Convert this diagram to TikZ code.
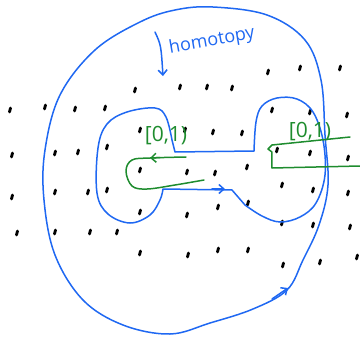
\documentclass[tikz,border=0pt]{standalone}
\usepackage{fontspec}
\setsansfont{Open Sans}
\usetikzlibrary{arrows.meta}
\definecolor{loopc}{HTML}{1F68F2}
\definecolor{intc}{HTML}{1E8C2E}
\tikzset{
  loopline/.style={draw=loopc, line width=1.5pt, line join=round, line cap=round},
  intline/.style={draw=intc, line width=1.5pt, line join=round, line cap=round},
  speck/.style={line width=2.8pt, line cap=round, black},
  tipbarb/.style={-{Straight Barb[length=5pt,width=9pt]}},
  intlbl/.style={text=intc, font=\sffamily\fontsize{21}{21}\selectfont, inner sep=0pt},
  homlbl/.style={text=loopc, font=\sffamily\fontsize{18}{18}\selectfont, inner sep=0pt},
}
\begin{document}
\begin{tikzpicture}[x=1pt, y=-1pt]
  \useasboundingbox (0,0) rectangle (360,338);

  % lattice of dots
  \foreach \px/\py in {268/72, 300/68, 340/68,
      135/90, 180/87, 207/87, 232/88,
      10/110, 45/107, 75/109, 105/108, 272/110, 310/112, 347/115,
      140/130, 185/130, 213/132, 242/133,
      12/155, 55/153, 78/152, 107/147, 277/150, 310/153, 348/158,
      140/170, 187/172, 215/173, 247/167,
      12/197, 55/192, 88/192, 107/190, 282/185, 313/190, 348/193,
      140/212, 187/215, 218/207, 248/203,
      17/233, 55/232, 90/232, 117/232, 282/223, 313/225, 350/227,
      140/253, 188/255, 218/250, 248/250,
      283/265, 320/262, 357/257}
    \draw[speck] (\px-0.5,\py+2) -- (\px+0.5,\py-2);

  % outer loop (the homotopy)
  \draw[loopline] plot[smooth cycle, tension=0.6] coordinates {
      (213,7) (267,15) (305,40) (321,80) (325,135) (328,185) (319,225)
      (303,260) (287,290) (253,309) (210,323) (170,334) (123,325) (83,300)
      (55,255) (44,200) (45,150) (60,95) (95,50) (140,22) (175,10)};
  \draw[loopline, tipbarb] (272,299) -- (288,288);

  % inner loop
  \draw[loopline] (254,151) -- (175,152)
    -- plot[smooth, tension=0.6] coordinates {
      (172,140) (166,117) (155,108) (127,112) (107,124) (98,148) (97,193)
      (108,214) (130,223) (150,215) (160,200) (163,189)}
    -- (232,190)
    -- plot[smooth, tension=0.6] coordinates {
      (245,205) (262,216) (280,222) (300,217) (316,203) (325,175) (323,140)
      (313,112) (297,99) (277,98) (262,106) (256,122) (254,151)};
  \draw[loopline, tipbarb] (212,189) -- (225,189);

  % intervals
  \draw[intline] plot[smooth, tension=0.6] coordinates {
      (186,157) (150,158) (132,160) (126,171) (132,186) (147,189) (175,185) (204,180)};
  \draw[intline, tipbarb] (160,157.6) -- (150,158);
  \draw[intline] (350,137) -- (272,145) -- (268,149) -- (272,152) -- (272,168) -- (360,166);

  \node[intlbl] (intleft) at (166,136) {[0,1)};
  \node[intlbl] (intright) at (310,132) {[0,1)};

  % homotopy label
  \node[homlbl, rotate=10] (homtext) at (212,41) {homotopy};
  \coordinate (homstart) at (155,32);
  \coordinate (homend) at (163,76);
  \draw[loopline, tipbarb] (homstart) .. controls (161,45) .. (homend);
\end{tikzpicture}
\end{document}
